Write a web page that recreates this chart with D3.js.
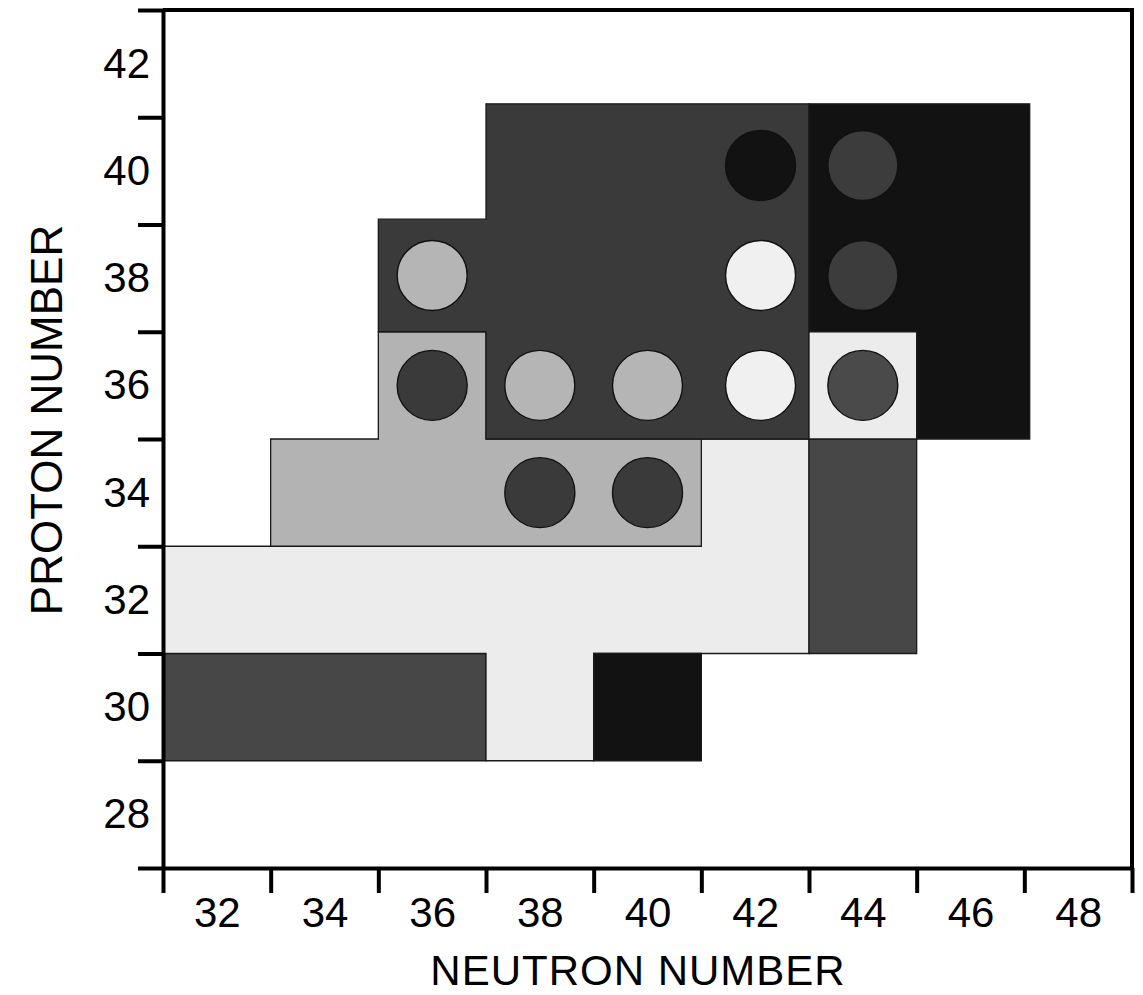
<!DOCTYPE html>
<html>
<head>
<meta charset="utf-8">
<script src="https://cdn.jsdelivr.net/npm/d3@7/dist/d3.min.js"></script>
<style>
  html, body { margin: 0; padding: 0; background: #ffffff; }
  svg { display: block; }
</style>
</head>
<body>
<svg id="chart" width="1143" height="995"></svg>
<script>
// ---------- data ----------
const xTicks = [31, 33, 35, 37, 39, 41, 43, 45, 47, 49];
const xLabels = [32, 34, 36, 38, 40, 42, 44, 46, 48];
const yTicks = [27, 29, 31, 33, 35, 37, 39, 41, 43];
const yLabels = [28, 30, 32, 34, 36, 38, 40, 42];
const xTitle = "NEUTRON NUMBER";
const yTitle = "PROTON NUMBER";

// shaded regions of the (N, Z) chart, vertices in (neutron, proton) units
const regionShade = ["#474747", "#ececec", "#121212", "#474747", "#b3b3b3", "#3a3a3a", "#121212", "#ececec"];
const regionVertices = [
  [[31, 29], [37, 29], [37, 31], [31, 31]],
  [[31, 31], [37, 31], [37, 29], [39, 29], [39, 31], [43, 31], [43, 35], [41, 35], [41, 33], [31, 33]],
  [[39, 29], [41, 29], [41, 31], [39, 31]],
  [[43, 31], [45, 31], [45, 35], [43, 35]],
  [[33, 33], [41, 33], [41, 35], [37, 35], [37, 37], [35, 37], [35, 35], [33, 35]],
  [[35, 37], [37, 37], [37, 35], [43, 35], [43, 41.25], [37, 41.25], [37, 39.1], [35, 39.1]],
  [[43, 37], [45, 37], [45, 35], [47.1, 35], [47.1, 41.25], [43, 41.25]],
  [[43, 35], [45, 35], [45, 37], [43, 37]]
];

// even-even nuclei markers
const nucleusN = [36, 38, 40, 42.1, 44, 36, 42.1, 44, 42.1, 44, 38, 40];
const nucleusZ = [36, 36, 36, 36, 36, 38.05, 38.05, 38.05, 40.1, 40.1, 34, 34];
const nucleusShade = ["#3a3a3a", "#b5b5b5", "#b5b5b5", "#f0f0f0", "#4a4a4a",
                      "#b5b5b5", "#f0f0f0", "#3c3c3c",
                      "#121212", "#3c3c3c",
                      "#3a3a3a", "#3a3a3a"];

// ---------- layout ----------
const mLeft = 163, mRight = 1132, mTop = 10, mBottom = 868;
const font = "'Liberation Sans', Arial, Helvetica, sans-serif";
const markerRadius = 35;

const svg = d3.select("#chart");
const x = d3.scaleLinear().domain([31, 49]).range([mLeft, mRight]);
const y = d3.scaleLinear().domain([27, 43]).range([mBottom, mTop]);

// regions
const line = d3.line().x(d => x(d[0])).y(d => y(d[1])).curve(d3.curveLinearClosed);
svg.append("g").selectAll("path")
  .data(regionVertices)
  .join("path")
  .attr("d", d => line(d))
  .attr("fill", (d, i) => regionShade[i])
  .attr("stroke", "#1a1a1a")
  .attr("stroke-width", 1.3)
  .attr("stroke-linejoin", "miter");

// nuclei
svg.append("g").selectAll("circle")
  .data(nucleusN.map((n, i) => ({ n, z: nucleusZ[i], c: nucleusShade[i] })))
  .join("circle")
  .attr("cx", d => x(d.n))
  .attr("cy", d => y(d.z))
  .attr("r", markerRadius)
  .attr("fill", d => d.c)
  .attr("stroke", "#111")
  .attr("stroke-width", 1.4);

// frame (top and right)
svg.append("path")
  .attr("d", `M${mLeft},${mTop}H${mRight}V${mBottom}`)
  .attr("fill", "none")
  .attr("stroke", "#000")
  .attr("stroke-width", 4);

// axes: ticks
const styleAxis = g => {
  g.select(".domain").attr("stroke", "#000").attr("stroke-width", 4);
  g.selectAll(".tick line").attr("stroke", "#000").attr("stroke-width", 4);
};
svg.append("g")
  .attr("transform", `translate(${mLeft},0)`)
  .call(d3.axisLeft(y).tickValues(yTicks).tickSize(25).tickSizeOuter(0).tickFormat(""))
  .call(styleAxis);
svg.append("g")
  .attr("transform", `translate(0,${mBottom})`)
  .call(d3.axisBottom(x).tickValues(xTicks).tickSize(25).tickSizeOuter(0).tickFormat(""))
  .call(styleAxis);

// axes: labels
const yLab = svg.append("g")
  .attr("transform", `translate(${mLeft},0)`)
  .call(d3.axisLeft(y).tickValues(yLabels).tickSize(0).tickPadding(13).tickFormat(d3.format("d")));
yLab.select(".domain").remove();
yLab.selectAll("text").attr("font-family", font).attr("font-size", 42).attr("fill", "#000");

const xLab = svg.append("g")
  .attr("transform", `translate(0,${mBottom})`)
  .call(d3.axisBottom(x).tickValues(xLabels).tickSize(0).tickPadding(29).tickFormat(d3.format("d")));
xLab.select(".domain").remove();
xLab.selectAll("text").attr("font-family", font).attr("font-size", 42).attr("fill", "#000");

// titles
svg.append("text")
  .attr("x", 638).attr("y", 985)
  .attr("text-anchor", "middle")
  .attr("font-family", font).attr("font-size", 42).attr("letter-spacing", 1)
  .attr("fill", "#000")
  .text(xTitle);
svg.append("text")
  .attr("transform", `translate(62,${420}) rotate(-90)`)
  .attr("text-anchor", "middle")
  .attr("font-family", font).attr("font-size", 44).attr("fill", "#000")
  .text(yTitle);
</script>
</body>
</html>
